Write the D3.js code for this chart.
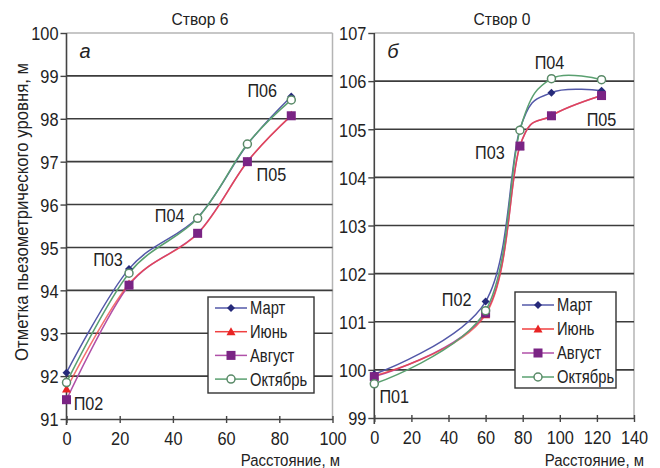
<!DOCTYPE html>
<html><head><meta charset="utf-8">
<script src="https://cdn.jsdelivr.net/npm/d3@7"></script>
<style>
html,body{margin:0;padding:0;background:#fff;}
svg text{font-family:"Liberation Sans",Arial,sans-serif;fill:#222;}
</style></head>
<body><svg id="c" width="660" height="468"></svg>
<script>
// ---- data ----
const seriesNames = ["Март","Июнь","Август","Октябрь"];

const leftTitle = "Створ 6";
const leftX = [0, 23.5, 49.3, 68, 84.5];
const leftWells = ["П02","П03","П04","П05","П06"];
const leftMart = [92.08, 94.5, 95.7, 97.4, 98.52];
const leftIyun = [91.7, 94.15, 95.32, 97.0, 98.08];
const leftAvg  = [91.45, 94.12, 95.33, 97.0, 98.07];
const leftOkt  = [91.85, 94.4, 95.68, 97.41, 98.44];
const leftXTicks = [0,20,40,60,80,100];
const leftYTicks = [91,92,93,94,95,96,97,98,99,100];

const rightTitle = "Створ 0";
const rightX = [0, 60, 78.5, 95.5, 122.5];
const rightWells = ["П01","П02","П03","П04","П05"];
const rightMart = [99.91, 101.42, 105.0, 105.76, 105.8];
const rightIyun = [99.88, 101.15, 104.65, 105.28, 105.7];
const rightAvg  = [99.86, 101.18, 104.65, 105.28, 105.7];
const rightOkt  = [99.71, 101.23, 104.98, 106.05, 106.03];
const rightXTicks = [0,20,40,60,80,100,120,140];
const rightYTicks = [99,100,101,102,103,104,105,106,107];

const yLabel = "Отметка пьезометрического уровня, м";
const xLabel = "Расстояние, м";

// ---- styles ----
const styles = [
  {line:"#5358a8", fill:"#262a7a", stroke:"#262a7a", shape:"diamond", size:7},
  {line:"#f04040", fill:"#e82424", stroke:"#e82424", shape:"triangle", size:8},
  {line:"#b050a8", fill:"#7a2484", stroke:"#7a2484", shape:"square", size:9},
  {line:"#5aa070", fill:"#ffffff", stroke:"#5a8a68", shape:"circle", size:4}
];

const svg = d3.select("#c");

// horizontally condense text (reference uses a narrow typeface)
function squeeze(sel, sx, extra){
  sel.each(function(){
    const t = d3.select(this);
    const x = +t.attr("x")||0, y = +t.attr("y")||0;
    t.attr("x",null).attr("y",null)
     .attr("transform",`translate(${x},${y})${extra||""} scale(${sx},1)`);
  });
}

function marker(g, st, x, y){
  if(st.shape==="circle"){
    g.append("circle").attr("cx",x).attr("cy",y).attr("r",st.size)
      .attr("fill",st.fill).attr("stroke",st.stroke).attr("stroke-width",1.5);
  } else if(st.shape==="square"){
    g.append("rect").attr("x",x-st.size/2).attr("y",y-st.size/2)
      .attr("width",st.size).attr("height",st.size).attr("fill",st.fill);
  } else if(st.shape==="diamond"){
    const s=st.size/2+0.5;
    g.append("path").attr("d",`M${x},${y-s}L${x+s},${y}L${x},${y+s}L${x-s},${y}Z`).attr("fill",st.fill);
  } else {
    const s=st.size/2+0.5;
    g.append("path").attr("d",`M${x},${y-s}L${x+s},${y+s*0.8}L${x-s},${y+s*0.8}Z`).attr("fill",st.fill);
  }
}

function panel(cfg){
  const x = d3.scaleLinear().domain(cfg.xDomain).range(cfg.xRange);
  const y = d3.scaleLinear().domain(cfg.yDomain).range(cfg.yRange);
  const g = svg.append("g");
  const [x0,x1] = cfg.xRange, [yb,yt] = cfg.yRange;

  // gray frame top & right
  g.append("line").attr("x1",x0).attr("x2",x1).attr("y1",yt).attr("y2",yt).attr("stroke","#b4b4b4").attr("stroke-width",1.5);
  g.append("line").attr("x1",x1).attr("x2",x1).attr("y1",yt).attr("y2",yb).attr("stroke","#b4b4b4").attr("stroke-width",1.5);

  // gridlines
  g.selectAll(".grid").data(cfg.yTicks.slice(1,-1)).enter().append("line")
    .attr("x1",x0).attr("x2",x1).attr("y1",d=>y(d)).attr("y2",d=>y(d))
    .attr("stroke","#3c3c3c").attr("stroke-width",1.6);

  // y axis
  const ya = g.append("g").attr("transform",`translate(${x0},0)`)
    .call(d3.axisLeft(y).tickValues(cfg.yTicks).tickSize(6).tickFormat(d3.format("d")));
  ya.select(".domain").attr("stroke","#444").attr("stroke-width",1.6).attr("d",`M0,${yt}V${yb+6}`);
  ya.selectAll(".tick line").attr("stroke","#444").attr("stroke-width",1.4);
  ya.selectAll(".tick text").attr("font-size",19).attr("x",-8).attr("dy","0.36em")
    .style("font-family",'"Liberation Sans",Arial,sans-serif').attr("fill","#222");
  squeeze(ya.selectAll(".tick text"), 0.86);

  // x axis
  const xa = g.append("g").attr("transform",`translate(0,${yb})`)
    .call(d3.axisBottom(x).tickValues(cfg.xTicks).tickSizeInner(4).tickSizeOuter(0).tickFormat(d3.format("d")));
  xa.select(".domain").attr("stroke","#444").attr("stroke-width",1.6);
  xa.selectAll(".tick line").attr("stroke","#444").attr("stroke-width",1.4).attr("y1",-3).attr("y2",4);
  xa.selectAll(".tick text").attr("font-size",19).attr("y",25.5).attr("dy",null)
    .style("font-family",'"Liberation Sans",Arial,sans-serif').attr("fill","#222");
  squeeze(xa.selectAll(".tick text"), 0.86);

  // title
  squeeze(g.append("text").attr("x",cfg.titleX).attr("y",25).attr("text-anchor","middle").attr("font-size",17).text(cfg.title), 0.92);
  // panel letter
  g.append("text").attr("x",x0+13).attr("y",yt+25).attr("font-size",20).attr("font-style","italic").text(cfg.letter);
  // x label
  squeeze(g.append("text").attr("x",cfg.xLabelX).attr("y",465.5).attr("text-anchor","end").attr("font-size",17).text(xLabel), 0.88);

  // lines
  const lineGen = d3.line().curve(d3.curveCardinal.tension(0)).x(d=>x(d[0])).y(d=>y(d[1]));
  const order = [2,1,0,3];
  order.forEach(i=>{
    const pts = cfg.xs.map((xv,k)=>[xv,cfg.series[i][k]]);
    g.append("path").attr("d",lineGen(pts)).attr("fill","none")
      .attr("stroke",styles[i].line).attr("stroke-width",1.5)
      .attr("stroke-opacity", i===1?0.75:1);
  });
  // markers
  [1,0,2,3].forEach(i=>{
    cfg.xs.forEach((xv,k)=>marker(g,styles[i],x(xv),y(cfg.series[i][k])));
  });

  // well labels
  cfg.wells.forEach((w,k)=>{
    const ref = cfg.labelRef[k];
    const off = cfg.labelOff[k];
    squeeze(g.append("text").attr("x",x(cfg.xs[k])+off[0]).attr("y",y(cfg.series[ref][k])+off[1])
      .attr("text-anchor","middle").attr("dy","0.36em").attr("font-size",18).text(w), 0.9);
  });

  // legend
  const L = cfg.legend;
  g.append("rect").attr("x",L.x).attr("y",L.y).attr("width",L.w).attr("height",L.h)
    .attr("fill","#fff").attr("stroke","#333").attr("stroke-width",1.4);
  seriesNames.forEach((n,i)=>{
    const ry = L.y + L.row0 + i*L.dy;
    g.append("line").attr("x1",L.x+7).attr("x2",L.x+39).attr("y1",ry).attr("y2",ry)
      .attr("stroke",styles[i].line).attr("stroke-width",1.5);
    marker(g,styles[i],L.x+23,ry);
    squeeze(g.append("text").attr("x",L.x+42).attr("y",ry).attr("dy","0.36em").attr("font-size",18).text(n), 0.82);
  });
}

panel({
  xDomain:[0,100], xRange:[66.5,332.5], yDomain:[91,100], yRange:[419,33],
  xTicks:leftXTicks, yTicks:leftYTicks, title:leftTitle, titleX:200, letter:"а", xLabelX:340,
  xs:leftX, series:[leftMart,leftIyun,leftAvg,leftOkt], wells:leftWells,
  labelRef:[2,0,3,2,0],
  labelOff:[[22,4],[-21,-9],[-28,-3],[24,13],[-29,-6]],
  legend:{x:208,y:297,w:106,h:96,row0:11,dy:23.7}
});
panel({
  xDomain:[0,140], xRange:[374.3,634], yDomain:[99,107], yRange:[418,33],
  xTicks:rightXTicks, yTicks:rightYTicks, title:rightTitle, titleX:502, letter:"б", xLabelX:644,
  xs:rightX, series:[rightMart,rightIyun,rightAvg,rightOkt], wells:rightWells,
  labelRef:[3,0,3,3,2],
  labelOff:[[20,13],[-29,-2],[-30,22],[-2,-16],[0,24]],
  legend:{x:515,y:292,w:101,h:96,row0:13,dy:24}
});

// y axis label
svg.append("text").attr("transform","translate(22,212) rotate(-90) scale(0.93,1)").attr("text-anchor","middle")
  .attr("dy","0.36em").attr("font-size",18).text(yLabel);
</script></body></html>
